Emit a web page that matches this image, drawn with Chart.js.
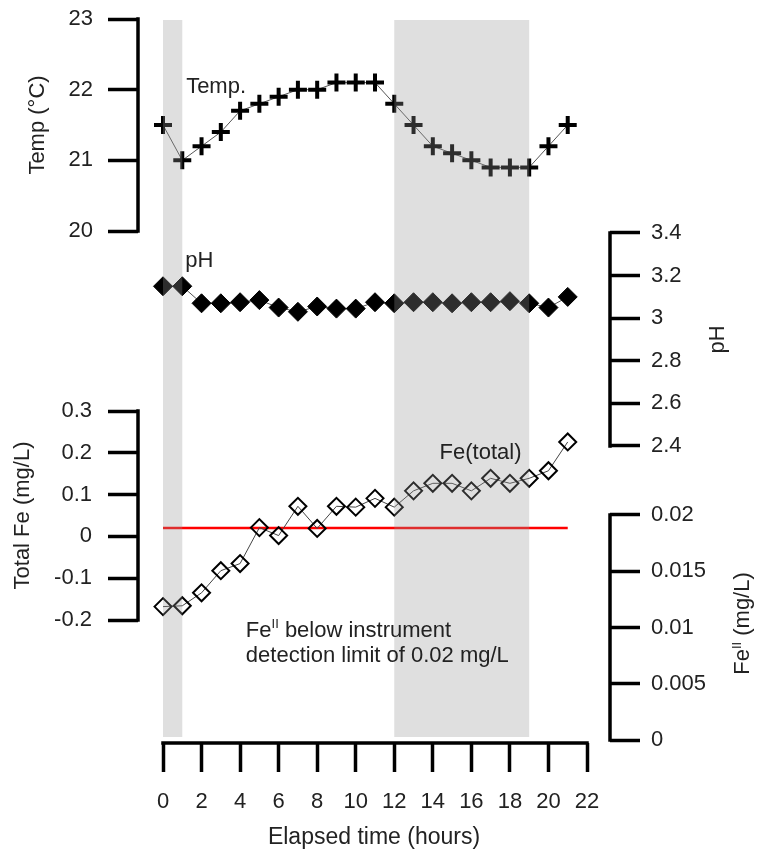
<!DOCTYPE html>
<html>
<head>
<meta charset="utf-8">
<script src="https://cdn.jsdelivr.net/npm/chart.js@4.4.1/dist/chart.umd.min.js"></script>
<style>
  body { margin: 0; background: #fff; }
  canvas { display: block; }
</style>
</head>
<body>
<canvas id="chemChart" width="759" height="854"></canvas>
<script>
// hourly readings
const hours = [0, 1, 2, 3, 4, 5, 6, 7, 8, 9, 10, 11, 12, 13, 14, 15, 16, 17, 18, 19, 20, 21];
const tempC = [21.5, 21.0, 21.2, 21.4, 21.7, 21.8, 21.9, 22.0, 22.0, 22.1, 22.1, 22.1, 21.8, 21.5, 21.2, 21.1, 21.0, 20.9, 20.9, 20.9, 21.2, 21.5];
const pHVals = [3.15, 3.15, 3.07, 3.07, 3.075, 3.085, 3.05, 3.03, 3.055, 3.045, 3.045, 3.075, 3.07, 3.075, 3.075, 3.07, 3.075, 3.075, 3.08, 3.07, 3.05, 3.10];
const feTotal = [-0.168, -0.166, -0.135, -0.082, -0.065, 0.021, 0.002, 0.072, 0.019, 0.072, 0.070, 0.091, 0.070, 0.109, 0.127, 0.127, 0.109, 0.139, 0.127, 0.139, 0.157, 0.226];
const detLimitHours = [0, 21];
const detLimitFe = [0.02, 0.02];
const darkPeriods = [[0, 1], [12, 19]];

// tick labels
const hourTicks = [0, 2, 4, 6, 8, 10, 12, 14, 16, 18, 20, 22];
const tempTicks = [20, 21, 22, 23];
const pHTicks = [2.4, 2.6, 2.8, 3, 3.2, 3.4];
const feTicks = [-0.2, -0.1, 0, 0.1, 0.2, 0.3];
const fe2Ticks = [0, 0.005, 0.01, 0.015, 0.02];

const FONT = '"Liberation Sans", Arial, sans-serif';
const TXT = '#222';

// plot area in px; the left and right axis columns are each split in two stacked bands
const area = {left: 138, right: 610, top: 15, bottom: 743};
const splitL = 320;
const splitR = 480;

function lerpAt(vA, pA, vB, pB, p) {
  return vA + (p - pA) * (vB - vA) / (pB - pA);
}
function vRange(vA, pA, vB, pB, top, bottom) {
  return [lerpAt(vA, pA, vB, pB, bottom), lerpAt(vA, pA, vB, pB, top)];
}
const xRange = [lerpAt(0, 163, 22, 587, area.left), lerpAt(0, 163, 22, 587, area.right)];
const tempRange = vRange(23, 19, 20, 231, area.top, splitL);
const feRange = vRange(0.3, 411, -0.2, 620, splitL, area.bottom);
const pHRange = vRange(3.4, 233, 2.4, 446, area.top, splitR);
const fe2Range = vRange(0.02, 515, 0, 740, splitR, area.bottom);

function yAxis(pos, stack, weight, stackWeight, width, ticks, range, pad) {
  return {
    type: 'linear',
    position: pos,
    stack: stack,
    weight: weight,
    stackWeight: stackWeight,
    min: range[0],
    max: range[1],
    border: {display: false},
    grid: {drawOnChartArea: false, drawTicks: true, tickLength: 30, tickWidth: 3.5, tickColor: '#000'},
    ticks: {font: {family: FONT, size: 22}, color: TXT, padding: pad, autoSkip: false, callback: v => String(v)},
    afterBuildTicks: s => { s.ticks = ticks.map(v => ({value: v})); },
    afterFit: s => {
      s.width = width;
      s.paddingTop = 0;
      s.paddingBottom = 0;
    }
  };
}

function pts(xs, ys) {
  return xs.map((x, i) => ({x: x, y: ys[i]}));
}

function richText(ctx, parts, x, y, rot, align) {
  ctx.save();
  ctx.translate(x, y);
  ctx.rotate(rot);
  ctx.textBaseline = 'middle';
  ctx.textAlign = 'left';
  let w = 0;
  parts.forEach(p => {
    ctx.font = p[1] ? '13px ' + FONT : '22px ' + FONT;
    w += ctx.measureText(p[0]).width;
  });
  let xx = align === 'left' ? 0 : -w / 2;
  parts.forEach(p => {
    ctx.font = p[1] ? '13px ' + FONT : '22px ' + FONT;
    ctx.fillText(p[0], xx, p[1] ? -6 : 0);
    xx += ctx.measureText(p[0]).width;
  });
  ctx.restore();
}

const decor = {
  id: 'decor',
  afterDatasetsDraw(chart) {
    const {ctx} = chart;
    const {x, yT, yF2} = chart.scales;
    const top = yT.getPixelForValue(23) + 1;
    const bot = yF2.getPixelForValue(0) - 3;
    ctx.save();
    ctx.fillStyle = 'rgba(150,150,150,0.3)';
    darkPeriods.forEach(([a, b]) => {
      const x1 = x.getPixelForValue(a);
      const x2 = x.getPixelForValue(b);
      ctx.fillRect(x1, top, x2 - x1, bot - top);
    });
    ctx.restore();
  },
  afterDraw(chart) {
    const {ctx} = chart;
    const {x, yT, yP, yF, yF2} = chart.scales;
    ctx.save();
    // axis brackets
    ctx.strokeStyle = '#000';
    ctx.lineWidth = 3.5;
    ctx.lineCap = 'square';
    const seg = (x1, y1, x2, y2) => {
      ctx.beginPath();
      ctx.moveTo(x1, y1);
      ctx.lineTo(x2, y2);
      ctx.stroke();
    };
    seg(yT.right, yT.getPixelForValue(23), yT.right, yT.getPixelForValue(20));
    seg(yF.right, yF.getPixelForValue(0.3), yF.right, yF.getPixelForValue(-0.2));
    seg(yP.left, yP.getPixelForValue(3.4), yP.left, yP.getPixelForValue(2.4));
    seg(yF2.left, yF2.getPixelForValue(0.02), yF2.left, yF2.getPixelForValue(0));
    seg(x.getPixelForValue(0), x.top, x.getPixelForValue(22), x.top);

    // axis titles
    ctx.fillStyle = TXT;
    const mid = (s, a, b) => (s.getPixelForValue(a) + s.getPixelForValue(b)) / 2;
    richText(ctx, [['Temp (°C)']], area.left - 100, mid(yT, 20, 23), -Math.PI / 2);
    richText(ctx, [['Total Fe (mg/L)']], area.left - 115, mid(yF, -0.2, 0.3), -Math.PI / 2);
    richText(ctx, [['pH']], area.right + 108, mid(yP, 2.4, 3.4), -Math.PI / 2);
    richText(ctx, [['Fe'], ['II', true], [' (mg/L)']], area.right + 133, mid(yF2, 0, 0.02) - 4, -Math.PI / 2);

    // series labels and note
    richText(ctx, [['Temp.']], x.getPixelForValue(1.2), yT.getPixelForValue(22.04), 0, 'left');
    richText(ctx, [['pH']], x.getPixelForValue(1.15), yP.getPixelForValue(3.27), 0, 'left');
    richText(ctx, [['Fe(total)']], x.getPixelForValue(14.35), yF.getPixelForValue(0.199), 0, 'left');
    richText(ctx, [['Fe'], ['II', true], [' below instrument']], x.getPixelForValue(4.3), yF.getPixelForValue(-0.226), 0, 'left');
    richText(ctx, [['detection limit of 0.02 mg/L']], x.getPixelForValue(4.3), yF.getPixelForValue(-0.285), 0, 'left');
    ctx.restore();
  }
};

const chemChart = new Chart(document.getElementById('chemChart'), {
  type: 'line',
  data: {
    datasets: [
      {
        label: 'Temp',
        data: pts(hours, tempC),
        yAxisID: 'yT',
        borderColor: '#555',
        borderWidth: 1,
        pointStyle: 'cross',
        pointRadius: 9,
        pointBorderColor: '#000',
        pointBorderWidth: 4
      },
      {
        label: 'pH',
        data: pts(hours, pHVals),
        yAxisID: 'yP',
        borderColor: '#555',
        borderWidth: 1,
        pointStyle: 'rectRot',
        pointRadius: 9.5,
        pointBackgroundColor: '#000',
        pointBorderColor: '#000',
        pointBorderWidth: 1
      },
      {
        label: 'Fe(total)',
        data: pts(hours, feTotal),
        yAxisID: 'yF',
        borderColor: '#444',
        borderWidth: 1,
        pointStyle: 'rectRot',
        pointRadius: 8.5,
        pointBackgroundColor: 'rgba(0,0,0,0)',
        pointBorderColor: '#000',
        pointBorderWidth: 2
      },
      {
        label: 'Detection limit',
        data: pts(detLimitHours, detLimitFe),
        yAxisID: 'yF',
        borderColor: '#f00',
        borderWidth: 2.5,
        pointRadius: 0
      }
    ]
  },
  options: {
    responsive: false,
    animation: false,
    layout: {padding: {top: area.top}},
    plugins: {legend: {display: false}, tooltip: {enabled: false}},
    scales: {
      x: {
        type: 'linear',
        position: 'bottom',
        min: xRange[0],
        max: xRange[1],
        border: {display: false},
        grid: {drawOnChartArea: false, drawTicks: true, tickLength: 29, tickWidth: 3.5, tickColor: '#000'},
        ticks: {font: {family: FONT, size: 22}, color: TXT, padding: 17, autoSkip: false, maxRotation: 0, callback: v => String(v)},
        afterBuildTicks: s => { s.ticks = hourTicks.map(v => ({value: v})); },
        afterFit: s => {
          s.height = 854 - area.bottom;
          s.paddingLeft = 0;
          s.paddingRight = 0;
        },
        title: {display: true, text: 'Elapsed time (hours)', font: {family: FONT, size: 23}, color: TXT, padding: {top: 0, bottom: 3}}
      },
      yT: yAxis('left', 'L', 1, splitL - area.top, area.left, tempTicks, tempRange, 15),
      yF: yAxis('left', 'L', 0, area.bottom - splitL, area.left, feTicks, feRange, 16),
      yP: yAxis('right', 'R', 0, splitR - area.top, 759 - area.right, pHTicks, pHRange, 11),
      yF2: yAxis('right', 'R', 1, area.bottom - splitR, 759 - area.right, fe2Ticks, fe2Range, 11)
    }
  },
  plugins: [decor]
});
</script>
</body>
</html>
